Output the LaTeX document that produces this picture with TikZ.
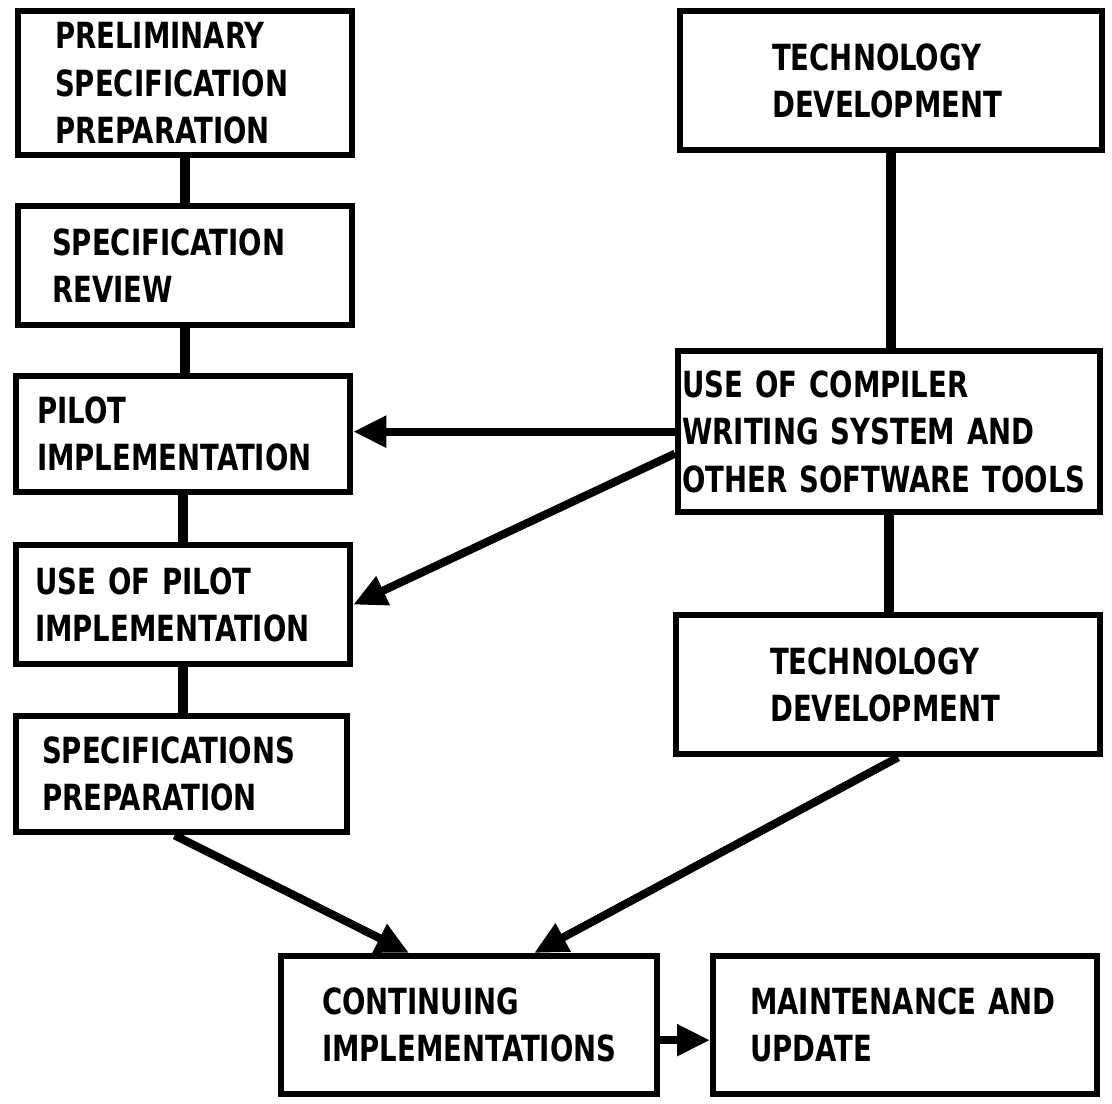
\documentclass[tikz,border=0pt]{standalone}
\usepackage{fontspec}
\setmainfont{DejaVu Sans Condensed}[FakeStretch=0.85]
\usetikzlibrary{arrows.meta}

\tikzset{
  stage/.style={draw, line width=3.6pt, anchor=north west, align=left,
    inner ysep=0pt, font=\bfseries\fontsize{20.5}{27}\selectfont},
  link/.style={line width=5.4pt},
  flow/.style={line width=4.6pt, -{Triangle[length=0.66cm,width=0.6cm]}}
}

\begin{document}
\begin{tikzpicture}[x=0.02cm, y=-0.02cm]
		\useasboundingbox (0,0) rectangle (1112,1103);
		
		% Left column of stages
		\node[stage, text width=5.20cm, inner xsep=0.74cm, minimum height=2.88cm] (prelim) at (15,8)
			{PRELIMINARY\\SPECIFICATION\\PREPARATION};
		\node[stage, text width=5.32cm, inner xsep=0.68cm, minimum height=2.38cm] (review) at (15,203)
			{SPECIFICATION\\REVIEW};
		\node[stage, text width=5.84cm, inner xsep=0.42cm, minimum height=2.32cm] (pilot) at (13,373)
			{PILOT\\IMPLEMENTATION};
		\node[stage, text width=5.92cm, inner xsep=0.38cm, minimum height=2.38cm] (usepilot) at (13,542)
			{USE OF PILOT\\IMPLEMENTATION};
		\node[stage, text width=5.58cm, inner xsep=0.52cm, minimum height=2.32cm] (specprep) at (13,713)
			{SPECIFICATIONS\\PREPARATION};
		
		% Right column
		\node[stage, text width=4.76cm, inner xsep=1.84cm, minimum height=2.78cm] (techtop) at (677,8)
			{TECHNOLOGY\\DEVELOPMENT};
		\node[stage, text width=8.28cm, inner xsep=0.08cm, minimum height=3.22cm] (compiler) at (675,348)
			{USE OF COMPILER\\WRITING SYSTEM AND\\OTHER SOFTWARE TOOLS};
		\node[stage, text width=4.72cm, inner xsep=1.88cm, minimum height=2.78cm] (techlow) at (673,612)
			{TECHNOLOGY\\DEVELOPMENT};
		
		% Bottom row
		\node[stage, text width=5.88cm, inner xsep=0.82cm, minimum height=2.76cm] (contimpl) at (278,953)
			{CONTINUING\\IMPLEMENTATIONS};
		\node[stage, text width=6.20cm, inner xsep=0.74cm, minimum height=2.76cm] (maint) at (710,953)
			{MAINTENANCE AND\\UPDATE};
		
		% Plain links
		\draw[link] (prelim.south) -- (prelim.south |- review.north);
		\draw[link] (review.south) -- (review.south |- pilot.north);
		\draw[link] (pilot.south) -- (pilot.south |- usepilot.north);
		\draw[link] (usepilot.south) -- (usepilot.south |- specprep.north);
		\draw[link] (techtop.south) -- (techtop.south |- compiler.north);
		\draw[link] (compiler.south) -- (compiler.south |- techlow.north);
		
		% Arrows
		\draw[flow] (compiler.west) -- (compiler.west -| pilot.east);
		\draw[flow] ([yshift=-0.44cm]compiler.west) -- (usepilot.east);
		\draw[flow] ([xshift=-0.14cm]specprep.south) -- ([xshift=-1.2cm]contimpl.north);
		\draw[flow] ([xshift=0.2cm]techlow.south) -- ([xshift=1.3cm]contimpl.north);
		\draw[flow] ([yshift=-0.3cm]contimpl.east) -- ([yshift=-0.3cm]maint.west);
	\end{tikzpicture}
\end{document}
